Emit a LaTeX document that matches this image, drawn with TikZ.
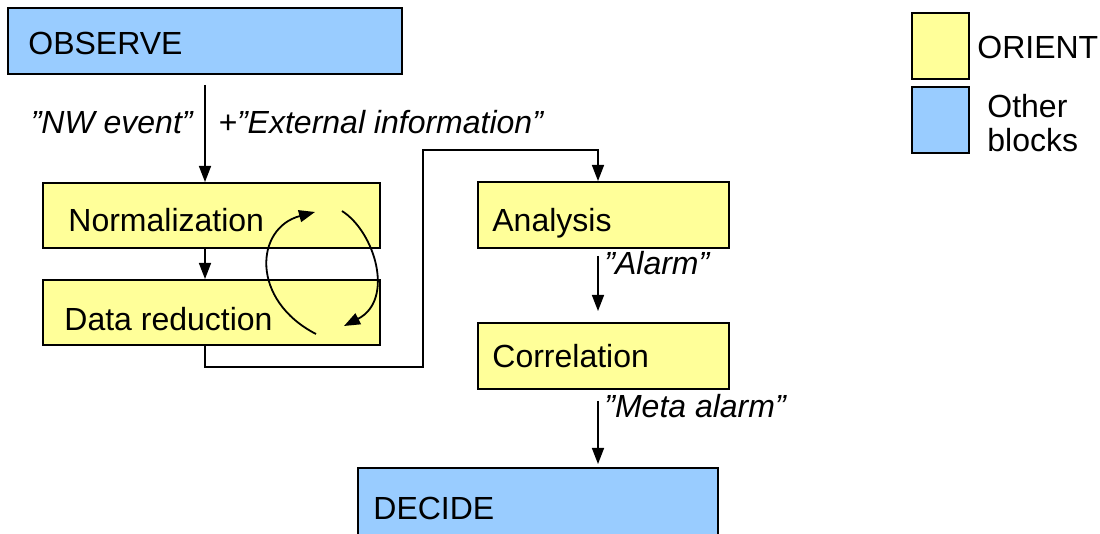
\documentclass[tikz,border=0pt]{standalone}
\usepackage{fontspec}
\setmainfont{Liberation Sans}
\usetikzlibrary{arrows.meta}
\definecolor{orientfill}{HTML}{FFFF99}
\definecolor{otherfill}{HTML}{99CCFF}
\begin{document}
\begin{tikzpicture}[x=0.5pt,y=-0.5pt,
  block/.style={draw=black, line width=1pt, inner sep=0pt, anchor=center},
  orient/.style={block, fill=orientfill},
  other/.style={block, fill=otherfill},
  txt/.style={anchor=base west, inner sep=0pt, font=\fontsize{16}{19}\selectfont},
  lbl/.style={inner sep=0pt, font=\fontsize{16}{19}\selectfont\itshape},
  tip/.style={-{Triangle[width=6pt,length=8pt]}},
  flow/.style={line width=0.75pt, tip},
  cycle/.style={line width=0.9pt, tip}]
\useasboundingbox (0,0) rectangle (1100,534);
\clip (0,0) rectangle (1100,534);

% process blocks
\node[other,  minimum width=197pt,   minimum height=33pt]   (observe)  at (205,41) {};
\node[orient, minimum width=168.5pt, minimum height=32.5pt] (norm)     at (211.5,215.5) {};
\node[orient, minimum width=168.5pt, minimum height=32.5pt] (datared)  at (211.5,312.5) {};
\node[orient, minimum width=125.5pt, minimum height=33pt]   (analysis) at (603.5,215) {};
\node[orient, minimum width=125.5pt, minimum height=33pt]   (corr)     at (603.5,356) {};
\node[other,  minimum width=180pt,   minimum height=50pt]   (decide)   at (538,518) {};

% block titles
\node[txt] (observe-t)  at (28,55)  {OBSERVE};
\node[txt] (norm-t)     at (68,232) {Normalization};
\node[txt] (datared-t)  at (64,331) {Data reduction};
\node[txt] (analysis-t) at (492,232) {Analysis};
\node[txt] (corr-t)     at (492,368) {Correlation};
\node[txt] (decide-t)   at (373,520) {DECIDE};

% routing points
\coordinate (feedR) at (423,367);
\coordinate (feedT) at (598,150);

% connectors
\draw[flow] ([yshift=-5pt]observe.south) -- (norm.north -| observe.south);
\draw[flow] (norm.south -| observe.south) -- (datared.north -| observe.south);
\draw[flow] (datared.south -| observe.south) |- (feedR) |- (feedT) -- (analysis.north -| feedT);
\draw[flow] ([yshift=-3.5pt]analysis.south -| feedT) -- ([yshift=5.5pt]corr.north -| feedT);
\draw[flow] ([yshift=-5.5pt]corr.south -| feedT) -- ([yshift=1.5pt]decide.north -| feedT);

% iteration loop between normalization and data reduction
\coordinate (loopL0) at (316,334);
\coordinate (loopL1) at (315,212);
\coordinate (loopR0) at (342,211);
\coordinate (loopR1) at (344,326);
\draw[cycle] (loopL0) .. controls (250,300) and (255,228) .. (loopL1);
\draw[cycle] (loopR0) .. controls (375,232) and (395,300) .. (loopR1);

% flow labels
\node[lbl, anchor=base east] (lbl-nw)   at (193,134) {”NW event”};
\node[lbl, anchor=base west] (lbl-ext)  at (218,134) {+”External information”};
\node[lbl, anchor=base west] (lbl-al)   at (604,275) {”Alarm”};
\node[lbl, anchor=base west] (lbl-meta) at (604,418) {”Meta alarm”};

% legend
\node[orient, minimum width=28.5pt, minimum height=33pt] (key-orient) at (940.5,46) {};
\node[other,  minimum width=28.5pt, minimum height=33pt] (key-other)  at (940.5,120) {};
\node[txt] (key-orient-t) at (977,59)  {ORIENT};
\node[txt] (key-other-t)  at (987,118) {Other};
\node[txt] (key-other-u)  at (987,152) {blocks};
\end{tikzpicture}
\end{document}
